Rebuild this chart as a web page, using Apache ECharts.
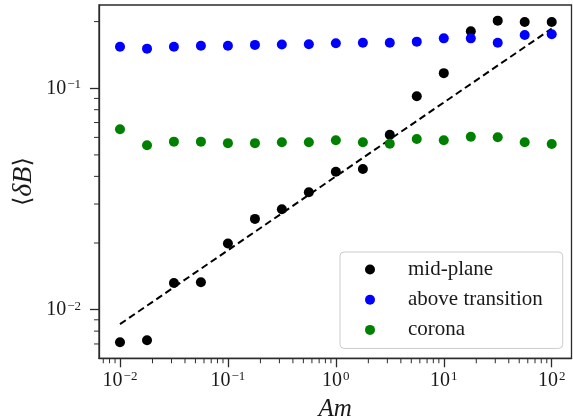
<!DOCTYPE html>
<html>
<head>
<meta charset="utf-8">
<script src="https://cdn.jsdelivr.net/npm/echarts@6/dist/echarts.min.js"></script>
<style>
html,body{margin:0;padding:0;background:#fff;}
#chart{width:573px;height:419px;}
</style>
</head>
<body>
<div id="chart"></div>
<script>
// ---- data ----
const amValues = [0.01, 0.0178, 0.0316, 0.0562, 0.1, 0.178, 0.316, 0.562, 1, 1.78, 3.16, 5.62, 10, 17.8, 31.6, 56.2, 100];
const midPlane = [0.00713, 0.00728, 0.0132, 0.0133, 0.0199, 0.0257, 0.0284, 0.0339, 0.042, 0.0432, 0.0617, 0.092, 0.117, 0.181, 0.202, 0.199, 0.199];
const aboveTransition = [0.154, 0.151, 0.154, 0.1556, 0.1556, 0.157, 0.1575, 0.158, 0.1596, 0.1606, 0.1606, 0.1624, 0.168, 0.168, 0.1606, 0.174, 0.1755];
const corona = [0.0653, 0.0553, 0.0574, 0.0574, 0.0565, 0.0565, 0.057, 0.057, 0.0582, 0.057, 0.0562, 0.059, 0.0582, 0.0604, 0.0601, 0.057, 0.056];
const fitX = [0.01, 100];
const fitY = [0.0086, 0.186];
const seriesNames = ['mid-plane', 'above transition', 'corona'];
const xMajorTicks = [0.01, 0.1, 1, 10, 100];
const yMajorTicks = [0.01, 0.1];
const xMinorTicks = [0.007, 0.008, 0.009,
  0.02, 0.03, 0.04, 0.05, 0.06, 0.07, 0.08, 0.09,
  0.2, 0.3, 0.4, 0.5, 0.6, 0.7, 0.8, 0.9,
  2, 3, 4, 5, 6, 7, 8, 9,
  20, 30, 40, 50, 60, 70, 80, 90];
const yMinorTicks = [0.007, 0.008, 0.009,
  0.02, 0.03, 0.04, 0.05, 0.06, 0.07, 0.08, 0.09, 0.2];

const xMin = 0.00639, xMax = 152.5;
const yMin = 0.00603, yMax = 0.2377;

// plot area (pixels) and a helper area extended by the minor-tick length on the left/bottom
const G = { left: 99, top: 5, right: 1.5, bottom: 60.7 };
const W = 573, H = 419, MINOR_LEN = 5;
const plotW = W - G.left - G.right, plotH = H - G.top - G.bottom;
const xMinExt = xMin / Math.pow(xMax / xMin, MINOR_LEN / plotW);
const yMinExt = yMin / Math.pow(yMax / yMin, MINOR_LEN / plotH);

const pair = (xs, ys) => xs.map((x, i) => [x, ys[i]]);

const FONT = 'Liberation Serif';
const TXT = '#1a1a1a';
const AXC = '#2b2b2b';
const richTick = {
  b: { fontSize: 20, fontFamily: FONT, color: TXT, lineHeight: 20, verticalAlign: 'bottom' },
  s: { fontSize: 13, fontFamily: FONT, color: TXT, lineHeight: 13, verticalAlign: 'top', padding: [0, 0, 0, 1] }
};
function powLabel(v) {
  const e = Math.round(Math.log10(v));
  return '{b|10}{s|' + (e < 0 ? '\u2212' : '') + Math.abs(e) + '}';
}

const chart = echarts.init(document.getElementById('chart'), null, { renderer: 'canvas' });
chart.setOption({
  animation: false,
  backgroundColor: '#fff',
  grid: [
    {
      left: G.left, top: G.top, right: G.right, bottom: G.bottom,
      outerBoundsMode: 'none', containLabel: false,
      show: true, borderColor: AXC, borderWidth: 1.3, backgroundColor: 'transparent'
    },
    {
      left: G.left - MINOR_LEN, top: G.top, right: G.right, bottom: G.bottom - MINOR_LEN,
      outerBoundsMode: 'none', containLabel: false, show: false
    }
  ],
  xAxis: [
    {
      gridIndex: 0,
      type: 'log', logBase: 10, min: xMin, max: xMax, position: 'bottom',
      name: 'Am', nameLocation: 'middle', nameGap: 39,
      nameTextStyle: { fontFamily: FONT, fontStyle: 'italic', fontSize: 25, color: TXT },
      axisLine: { show: true, onZero: false, lineStyle: { color: AXC, width: 1.3 } },
      axisTick: { show: true, length: 9, customValues: xMajorTicks, lineStyle: { color: AXC, width: 1.3 } },
      axisLabel: { show: true, margin: 12, customValues: xMajorTicks, formatter: powLabel, rich: richTick },
      splitLine: { show: false }, minorTick: { show: false }
    },
    {
      gridIndex: 1, show: false,
      type: 'log', logBase: 10, min: xMinExt, max: xMax,
      splitLine: { show: false }
    }
  ],
  yAxis: [
    {
      gridIndex: 0,
      type: 'log', logBase: 10, min: yMin, max: yMax, position: 'left',
      name: '{n|\u27E8}{i|\u03B4B}{n|\u27E9}', nameLocation: 'middle', nameGap: 61, nameRotate: 90,
      nameMoveOverlap: false,
      nameTextStyle: {
        color: TXT,
        rich: {
          n: { fontFamily: 'DejaVu Serif', fontSize: 24, color: TXT },
          i: { fontFamily: FONT, fontStyle: 'italic', fontSize: 28, color: TXT }
        }
      },
      axisLine: { show: true, onZero: false, lineStyle: { color: AXC, width: 1.3 } },
      axisTick: { show: true, length: 9, customValues: yMajorTicks, lineStyle: { color: AXC, width: 1.3 } },
      axisLabel: { show: true, margin: 18, customValues: yMajorTicks, formatter: powLabel, rich: richTick },
      splitLine: { show: false }, minorTick: { show: false }
    },
    {
      gridIndex: 1, show: false,
      type: 'log', logBase: 10, min: yMinExt, max: yMax,
      splitLine: { show: false }
    }
  ],
  legend: {
    data: seriesNames,
    orient: 'vertical',
    left: 340, top: 252,
    padding: [7, 20, 8, 25],
    itemWidth: 10, itemHeight: 10, itemGap: 9.2,
    icon: 'circle',
    backgroundColor: 'rgba(255,255,255,0.8)',
    borderColor: '#cccccc', borderWidth: 1, borderRadius: 4,
    formatter: name => '{t|' + name + '}',
    textStyle: {
      rich: { t: { fontFamily: FONT, fontSize: 21, lineHeight: 20, color: TXT, padding: [0, 0, 0, 28] } }
    }
  },
  series: [
    {
      type: 'scatter', name: 'x minor ticks', xAxisIndex: 1, yAxisIndex: 1, silent: true, z: 5,
      data: xMinorTicks.map(v => [v, yMin]),
      symbol: 'rect', symbolSize: [1, MINOR_LEN], symbolOffset: [0, '50%'],
      itemStyle: { color: AXC, opacity: 1 }
    },
    {
      type: 'scatter', name: 'y minor ticks', xAxisIndex: 1, yAxisIndex: 1, silent: true, z: 5,
      data: yMinorTicks.map(v => [xMin, v]),
      symbol: 'rect', symbolSize: [MINOR_LEN, 1], symbolOffset: ['-50%', 0],
      itemStyle: { color: AXC, opacity: 1 }
    },
    {
      type: 'line', name: 'fit', data: pair(fitX, fitY), symbol: 'none', z: 1,
      lineStyle: { color: '#000', width: 2, type: [7, 4] }, silent: true
    },
    { type: 'scatter', name: seriesNames[0], data: pair(amValues, midPlane), symbolSize: 10, itemStyle: { color: '#000000', opacity: 1 }, z: 2 },
    { type: 'scatter', name: seriesNames[1], data: pair(amValues, aboveTransition), symbolSize: 10, itemStyle: { color: '#0000ff', opacity: 1 }, z: 3 },
    { type: 'scatter', name: seriesNames[2], data: pair(amValues, corona), symbolSize: 10, itemStyle: { color: '#008000', opacity: 1 }, z: 4 }
  ]
});
</script>
</body>
</html>
